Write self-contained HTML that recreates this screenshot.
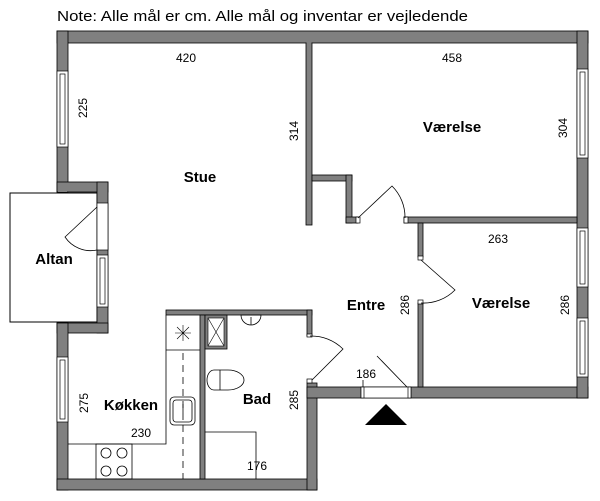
<!DOCTYPE html>
<html><head><meta charset="utf-8"><style>
html,body{margin:0;padding:0;background:#fff;}
svg{display:block;}
text{font-family:"Liberation Sans",Calibri,sans-serif;fill:#000;}
</style></head><body>
<svg width="600" height="501" viewBox="0 0 600 501" xmlns="http://www.w3.org/2000/svg">
<text x="57" y="21" font-size="15" textLength="411" lengthAdjust="spacingAndGlyphs">Note: Alle mål er cm. Alle mål og inventar er vejledende</text>

<!-- Altan -->
<rect x="10" y="193" width="87" height="129" fill="#fff" stroke="#000" stroke-width="1"/>

<g fill="#808080" stroke="#000" stroke-width="0.8">
<rect x="57" y="31" width="531" height="12"/>
<rect x="57" y="31" width="11" height="161"/>
<rect x="57" y="182" width="51" height="10"/>
<rect x="97" y="182" width="11" height="151"/>
<rect x="57" y="323" width="51" height="10"/>
<rect x="57" y="323" width="11" height="167"/>
<rect x="57" y="479" width="260" height="11"/>
<rect x="307" y="383" width="10" height="107"/>
<rect x="307" y="387" width="281" height="11"/>
<rect x="577" y="31" width="11" height="367"/>
<rect x="306" y="43" width="6" height="182"/>
<rect x="312" y="175" width="40" height="6"/>
<rect x="346" y="175" width="6" height="48"/>
<rect x="346" y="217" width="12" height="6"/>
<rect x="404" y="217" width="173" height="6"/>
<rect x="418" y="223" width="5" height="34"/>
<rect x="418" y="303" width="5" height="84"/>
<rect x="166" y="310" width="146" height="5"/>
<rect x="307" y="310" width="5" height="26"/>
<rect x="200" y="315" width="5" height="164"/>
<rect x="205" y="315" width="22" height="34"/>
</g>
<g fill="#808080">
<rect x="58" y="32" width="9" height="11"/>
<rect x="578" y="32" width="9" height="11"/>
<rect x="58" y="183" width="9" height="9"/>
<rect x="98" y="183" width="9" height="9"/>
<rect x="98" y="324" width="9" height="8"/>
<rect x="58" y="324" width="9" height="8"/>
<rect x="58" y="480" width="9" height="9"/>
<rect x="308" y="388" width="8" height="9"/>
<rect x="308" y="480" width="8" height="9"/>
<rect x="578" y="388" width="9" height="9"/>
<rect x="578" y="218" width="2" height="4"/>
<rect x="306.5" y="42" width="5" height="2"/>
</g>
<rect x="208" y="318" width="16" height="28" fill="#fff" stroke="#000" stroke-width="0.6"/>
<path d="M208 318 L224 346 M224 318 L208 346" stroke="#000" stroke-width="0.6"/>

<g fill="#fff" stroke="#000" stroke-width="0.7">
<rect x="57" y="71" width="11" height="76"/><rect x="60" y="74" width="5" height="70"/>
<rect x="57" y="357" width="11" height="65"/><rect x="60" y="360" width="5" height="59"/>
<rect x="97" y="203" width="11" height="47"/>
<rect x="97" y="255" width="11" height="52"/><rect x="100" y="258" width="5" height="46"/>
<rect x="577" y="69" width="11" height="89"/><rect x="580" y="72" width="5" height="83"/>
<rect x="577" y="228" width="11" height="59"/><rect x="580" y="231" width="5" height="53"/>
<rect x="577" y="318" width="11" height="59"/><rect x="580" y="321" width="5" height="53"/>
<rect x="361" y="387" width="50" height="11"/>
<rect x="361" y="387" width="3" height="11"/><rect x="408" y="387" width="3" height="11"/>
<rect x="356" y="217" width="4" height="6"/>
<rect x="404" y="217" width="4" height="6"/>
<rect x="418" y="256" width="5" height="4"/>
<rect x="418" y="300" width="5" height="4"/>
<rect x="307" y="334" width="5" height="3"/>
<rect x="307" y="379" width="5" height="4"/>
</g>

<g fill="none" stroke="#000" stroke-width="0.8">
<path d="M97 207 L65 237 A31 31 0 0 0 97 250"/>
<path d="M358 218 L392 186 A44 44 0 0 1 405 218"/>
<path d="M421 260 L455 290 A44 44 0 0 1 421 303"/>
<path d="M312 380 L343 349 A45 45 0 0 0 310 336"/>
<path d="M363 380 L363 387 M377 356 L407 387"/>
<path d="M166 315 L166 444 L68 444"/>
<path d="M166 350 L200 350"/>
<path d="M183 353 L183 479" stroke-dasharray="7,5"/>
<rect x="96" y="444" width="36" height="35"/>
<circle cx="106" cy="453" r="5"/><circle cx="122" cy="453" r="5"/>
<circle cx="106" cy="471" r="5"/><circle cx="122" cy="471" r="5"/>
<path d="M175 333 L191 333 M183 325 L183 341 M177 327 L189 339 M189 327 L177 339" stroke-width="0.6"/>
<rect x="170" y="397" width="25" height="28" rx="4"/>
<rect x="173" y="400" width="19" height="22" rx="3"/>
<path d="M183 404 L183 413"/>
<path d="M205 432 L256 432 L256 479"/>
<path d="M241 315 A10 10 0 0 0 261 315 Z"/>
<path d="M251 317 L251 325"/>
<path d="M214 370 L228 370 A16 10 0 0 1 228 390 L214 390 A7 10 0 0 1 214 370 Z"/>
<path d="M220 370 L220 390"/>
</g>
<polygon points="365,425 407,425 386,404" fill="#000"/>

<g font-size="12" text-anchor="middle">
<text x="186" y="62">420</text>
<text x="452" y="62">458</text>
<text x="498" y="243">263</text>
<text x="141" y="437">230</text>
<text x="257" y="470">176</text>
<text x="366" y="378">186</text>
<text transform="translate(87,108) rotate(-90)">225</text>
<text transform="translate(298,131) rotate(-90)">314</text>
<text transform="translate(567,128) rotate(-90)">304</text>
<text transform="translate(409,305) rotate(-90)">286</text>
<text transform="translate(569,305) rotate(-90)">286</text>
<text transform="translate(88,403) rotate(-90)">275</text>
<text transform="translate(298,400) rotate(-90)">285</text>
</g>
<g font-size="15" font-weight="bold" text-anchor="middle">
<text x="200" y="182">Stue</text>
<text x="452" y="132">Værelse</text>
<text x="501" y="308">Værelse</text>
<text x="366" y="310">Entre</text>
<text x="54" y="264">Altan</text>
<text x="131" y="410">Køkken</text>
<text x="257" y="404">Bad</text>
</g>
</svg>
</body></html>
